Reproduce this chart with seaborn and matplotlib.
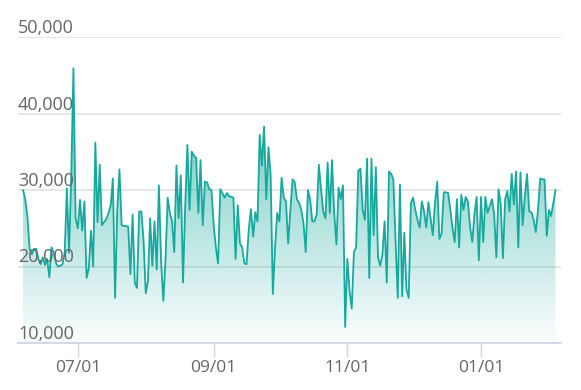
import numpy as np
import pandas as pd
import matplotlib
matplotlib.use("Agg")
import matplotlib.pyplot as plt
import matplotlib.dates as mdates
import matplotlib.transforms as mtransforms
import seaborn as sns

start_date = "2019-06-06"
values = [
    30000, 28800, 26500, 22300, 21600, 22300, 22300, 21000, 20300, 21200,
    20200, 21000, 18600, 22500, 21800, 20500, 20000, 20100, 20300, 21800,
    30200, 21800, 32000, 45900, 26300, 25000, 28700, 24700, 28500, 18500,
    19800, 24700, 20000, 36200, 25800, 33300, 25400, 25800, 26200, 27000,
    28000, 31500,
    15900, 27400, 32700, 25400, 25300, 25300, 25200, 19000, 26800, 17900,
    17200, 27200, 27200, 23400, 16500, 18100, 26300, 20100, 25900, 19600,
    30600, 20800, 15500, 20800, 29000, 27000, 25900, 21900, 33200, 26300,
    31900, 17900, 27900, 35900, 27400, 35000, 34500, 34200, 27000, 33900,
    25400, 31100, 31000, 30100, 30000, 25400, 22500, 20400, 30100, 29600,
    29000, 29600, 29200, 29100, 29000, 21000, 28000, 23000, 22500, 20400,
    20300, 24800, 27500, 23900, 27100, 25900, 37200, 33200, 38300, 28800,
    35600, 31900, 16400, 22500, 27000, 25900, 31600, 29000, 28500, 23000,
    27400, 31400,
    31000, 28800, 28300, 27400, 25600, 21900, 30000, 28800, 25900, 25900,
    26800, 33300, 30100, 27200, 26300, 33600, 27000, 33900, 27000, 22900,
    30300, 28800, 30600, 12100, 21000, 16800, 14500, 21900, 22500, 32500,
    32800, 27400, 26100, 34100, 18500, 34100, 24100, 33000, 21200, 20100,
    21600,
    25900, 17900, 32400, 32100, 31400, 23400, 15900, 30700, 16100, 24400,
    17000, 15900, 28300, 29000, 27400, 26100, 25100, 28500, 27200, 25100,
    28400, 26300, 24100, 28300, 31100, 23600, 24300, 29700, 29700, 29600,
    27400, 25000, 23200, 28800, 22500, 29400, 27400, 29100, 28500, 25200,
    23200,
    26800, 29100, 20800, 29100, 23200, 29100, 27000, 27900, 28800, 26800,
    21200, 30100, 28100, 21100, 28800, 29900, 27200, 32100, 28100, 32400,
    22500, 32300, 25400, 29200, 32100, 27200, 27100, 26100, 24500, 27400,
    31500, 31400, 31400, 24000, 27400, 26600, 28300, 30000,
]
y_ticks = [10000, 20000, 30000, 40000, 50000]
x_ticks = ["2019-07-01", "2019-09-01", "2019-11-01", "2020-01-01"]

LINE = "#17a99e"
TEXT = "#666666"
AXIS = "#cdd3e6"

dates = pd.date_range(start_date, periods=len(values), freq="D")
df = pd.DataFrame({"date": dates, "value": values})

sns.set_theme(style="white")
plt.rcParams["font.family"] = ["Open Sans", "DejaVu Sans"]

W, H = 581, 390
fig = plt.figure(figsize=(W / 100, H / 100), dpi=100)
ax = fig.add_axes([18 / W, 1 - 343 / H, (561 - 18) / W, (343 - 37) / H])

x0 = mdates.date2num(dates[0]) - 2.3
x1 = mdates.date2num(dates[-1]) + 2.5

# gradient fill under the line
poly = ax.fill_between(df["date"], df["value"], 10000, color="none", lw=0)
ymax_grad = max(values)
n = 256
alpha = np.linspace(0.02, 0.72, n)
rgb = matplotlib.colors.to_rgb(LINE)
img = np.zeros((n, 1, 4))
img[:, 0, 0], img[:, 0, 1], img[:, 0, 2] = rgb
img[:, 0, 3] = alpha
im = ax.imshow(img, extent=[x0, x1, 10000, ymax_grad], origin="lower",
               aspect="auto", zorder=2, interpolation="bilinear")
im.set_clip_path(poly.get_paths()[0], transform=ax.transData)

sns.lineplot(data=df, x="date", y="value", ax=ax, color=LINE, lw=1.3, zorder=3)

ax.set_xlim(x0, x1)
ax.set_ylim(10000, 50000)

# grid & y labels
ax.set_yticks(y_ticks)
ax.yaxis.grid(True, color="#e2e2e2", lw=1.2, zorder=0)
ax.set_axisbelow(True)
ax.tick_params(axis="y", length=0, labelleft=False)
trans = mtransforms.blended_transform_factory(ax.transAxes, ax.transData)
for v in y_ticks:
    ax.text(0.0, v, f"{v:,}", transform=trans, ha="left", va="bottom",
            color=TEXT, fontsize=13, zorder=4)

# x axis
ax.set_xticks(mdates.date2num(pd.to_datetime(x_ticks)))
ax.xaxis.set_major_formatter(mdates.DateFormatter("%m/%d"))
ax.tick_params(axis="x", length=10, width=1, color=AXIS, labelcolor=TEXT,
               labelsize=12.5, pad=2, bottom=True)
ax.set_xlabel("")
ax.set_ylabel("")
for s in ["top", "right", "left"]:
    ax.spines[s].set_visible(False)
ax.spines["bottom"].set_color(AXIS)
ax.spines["bottom"].set_linewidth(1.2)
ax.spines["bottom"].set_zorder(5)

fig.savefig("out.png", dpi=100)
